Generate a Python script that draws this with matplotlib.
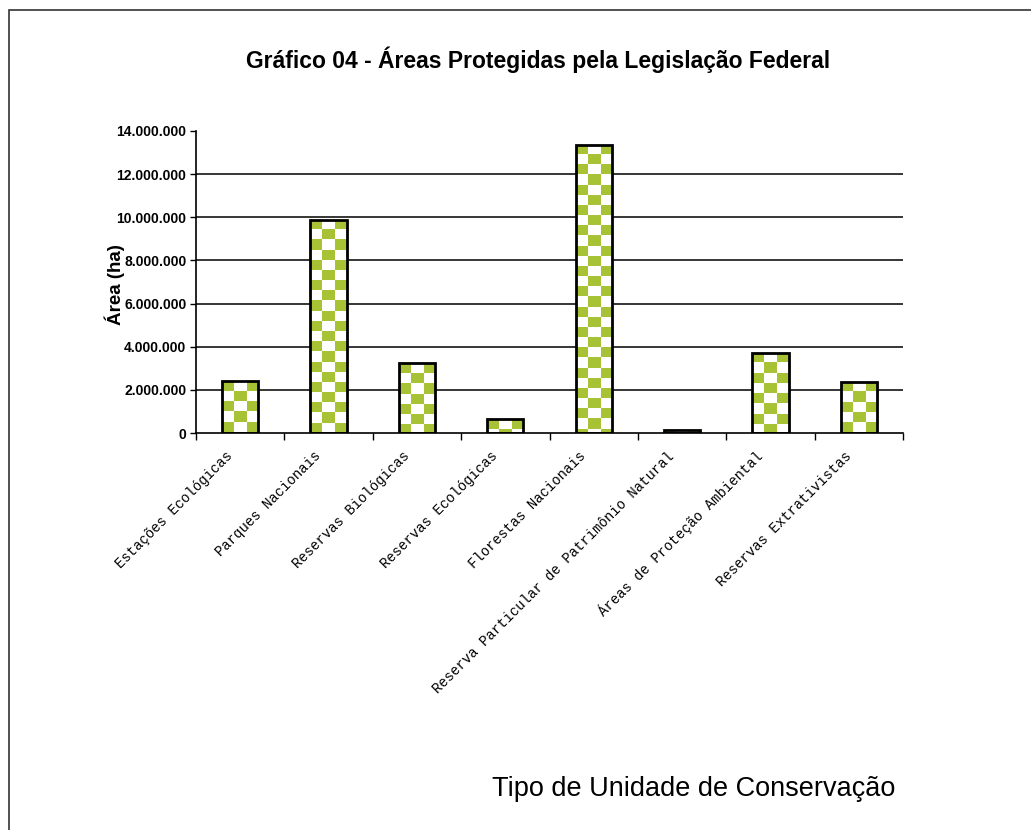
import numpy as np
import matplotlib
matplotlib.use("Agg")
import matplotlib.pyplot as plt
from matplotlib.colors import ListedColormap
from matplotlib.patches import Rectangle

categories = [
    "Estações Ecológicas",
    "Parques Nacionais",
    "Reservas Biológicas",
    "Reservas Ecológicas",
    "Florestas Nacionais",
    "Reserva Particular de Patrimônio Natural",
    "Áreas de Proteção Ambiental",
    "Reservas Extrativistas",
]
areas_ha = [2410000, 9880000, 3230000, 650000, 13360000, 120000, 3710000, 2370000]
y_ticks = [0, 2000000, 4000000, 6000000, 8000000, 10000000, 12000000, 14000000]

title = "Gráfico 04 - Áreas Protegidas pela Legislação Federal"
y_label = "Área (ha)"
x_label = "Tipo de Unidade de Conservação"

W, H = 1031, 830
fig = plt.figure(figsize=(W / 100, H / 100), dpi=100)
fig.patch.set_facecolor("white")

ax = fig.add_axes([196 / W, 1 - 433 / H, (903 - 196) / W, (433 - 131) / H])

x = np.arange(len(categories))
green = "#a8c236"
bars = ax.bar(x, areas_ha, width=0.41, facecolor="none", edgecolor="black",
              linewidth=2.0, zorder=3)

cell_h = 470000
cmap = ListedColormap(["white", green])
for rect in bars:
    x0 = rect.get_x()
    w = rect.get_width()
    h = rect.get_height()
    nrows = max(1, int(np.ceil(h / cell_h)))
    ncols = 3
    arr = 1.0 - (np.add.outer(np.arange(nrows), np.arange(ncols)) % 2)
    img = ax.imshow(arr, cmap=cmap, vmin=0, vmax=1,
                    extent=(x0, x0 + w, h - nrows * cell_h, h),
                    origin="upper", aspect="auto", interpolation="nearest",
                    zorder=2)
    img.set_clip_path(rect)

for v in y_ticks[1:-1]:
    ax.axhline(v, color="black", linewidth=1.1, zorder=1)

ax.set_xlim(-0.5, len(categories) - 0.5)
ax.set_ylim(0, y_ticks[-1])
ax.set_yticks(y_ticks)
ax.set_yticklabels([f"{v:,.0f}".replace(",", ".") for v in y_ticks],
                   fontsize=10, fontweight="bold", family="Liberation Sans")

ax.set_xticks(np.arange(len(categories) + 1) - 0.5)
ax.set_xticklabels([])
ax.tick_params(axis="x", length=5, width=1.0, direction="out")
ax.tick_params(axis="y", length=4, width=1.0, direction="out", pad=3)
for i, lab in enumerate(categories):
    ax.annotate(lab, xy=(i, 0), xycoords=("data", "axes fraction"),
                xytext=(-7, -15), textcoords="offset points",
                rotation=45, rotation_mode="anchor", ha="right", va="center",
                fontsize=10, family="Liberation Mono")

for s in ["top", "right"]:
    ax.spines[s].set_visible(False)
ax.spines["left"].set_linewidth(1.2)
ax.spines["bottom"].set_linewidth(1.2)

fig.text(538 / W, 1 - 60 / H, title, ha="center", va="center",
         fontsize=16.5, fontweight="bold", family="Liberation Sans")
fig.text(115 / W, 1 - 285 / H, y_label, ha="center", va="center", rotation=90,
         fontsize=13.5, fontweight="bold", family="Liberation Sans")
fig.text(694 / W, 1 - 789 / H, x_label, ha="center", va="center",
         fontsize=19.5, family="Liberation Sans")

fig.add_artist(Rectangle((9 / W, -0.05), 1.2, 1 - 10 / H + 0.05,
                         transform=fig.transFigure, fill=False,
                         edgecolor="#333333", linewidth=1.2))

fig.savefig("out.png", dpi=100)
